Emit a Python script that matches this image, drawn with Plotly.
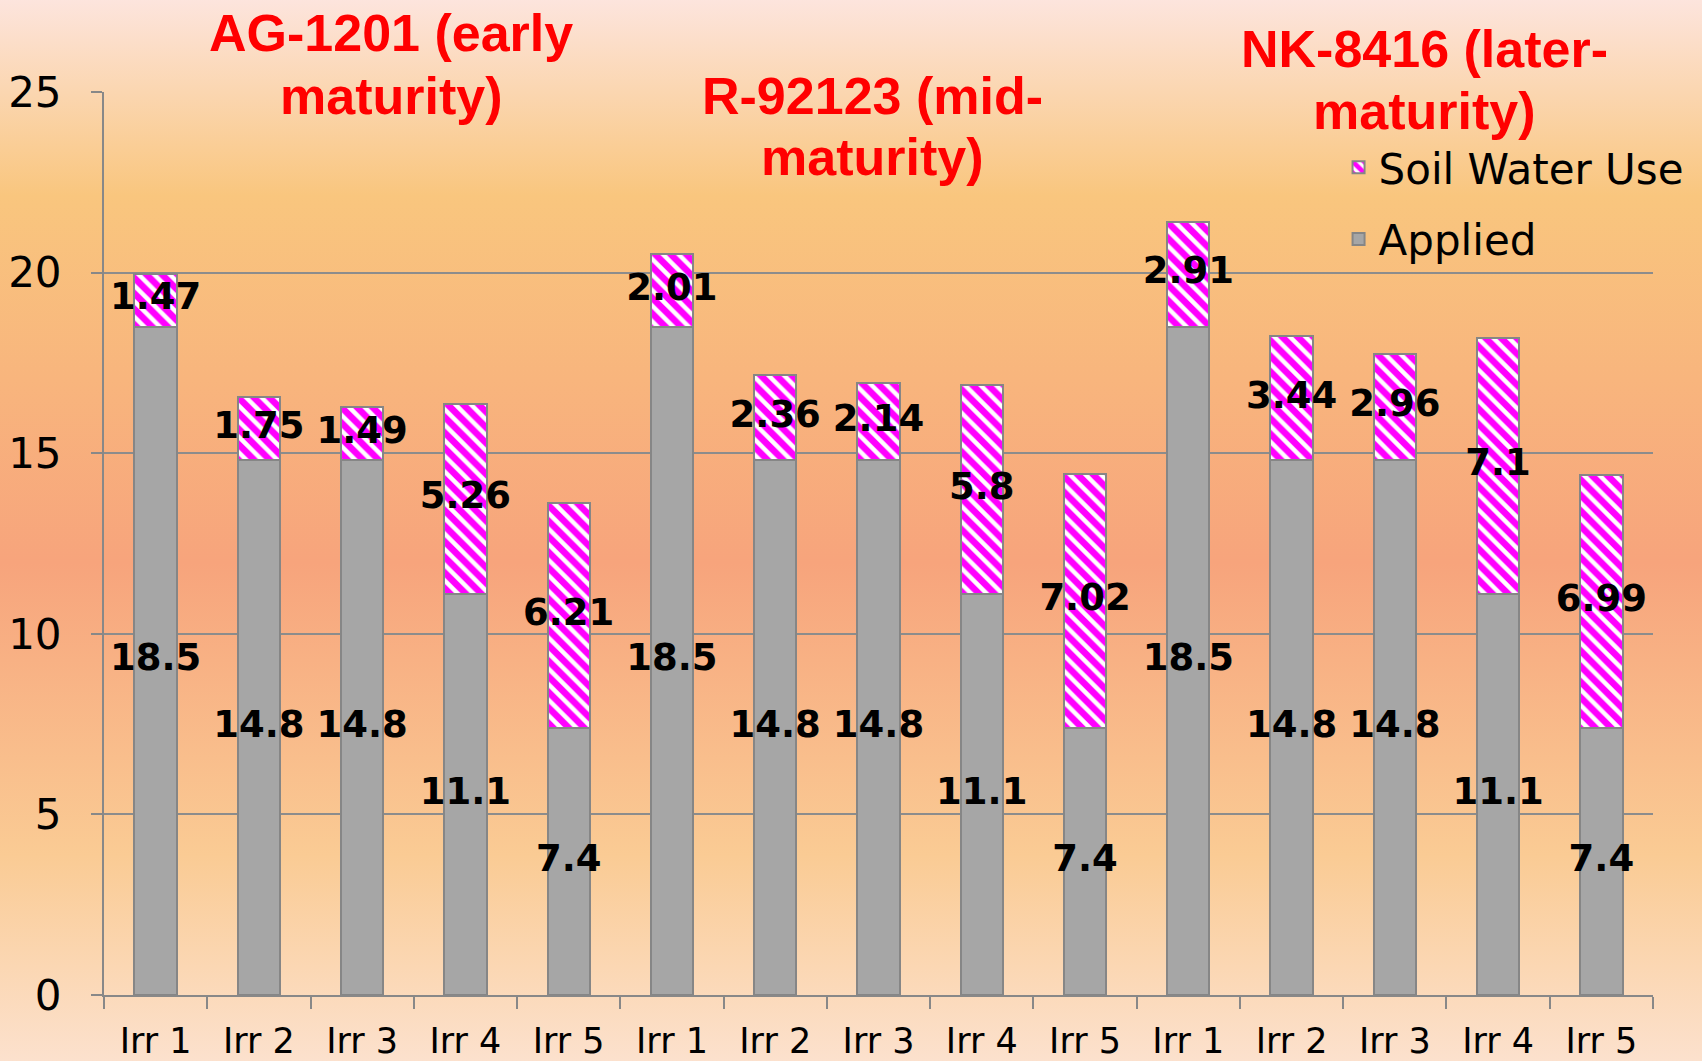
import base64
import plotly.graph_objects as go

# chart values
cats = ["AG Irr 1", "AG Irr 2", "AG Irr 3", "AG Irr 4", "AG Irr 5",
        "R Irr 1", "R Irr 2", "R Irr 3", "R Irr 4", "R Irr 5",
        "NK Irr 1", "NK Irr 2", "NK Irr 3", "NK Irr 4", "NK Irr 5"]
tick_labels = ["Irr 1", "Irr 2", "Irr 3", "Irr 4", "Irr 5"] * 3
applied = [18.5, 14.8, 14.8, 11.1, 7.4] * 3
soil_use = [1.47, 1.75, 1.49, 5.26, 6.21,
            2.01, 2.36, 2.14, 5.8, 7.02,
            2.91, 3.44, 2.96, 7.1, 6.99]
hybrid_lines = [("AG-1201 (early", "maturity)"),
                ("R-92123 (mid-", "maturity)"),
                ("NK-8416 (later-", "maturity)")]

W, H = 1702, 1061
L, R, T, B = 104, 49, 92, 66
pw, ph = W - L - R, H - T - B

# background gradient as an svg image
svg = ('<svg xmlns="http://www.w3.org/2000/svg" width="100" height="100" preserveAspectRatio="none">'
       '<defs><linearGradient id="g" x1="0" y1="0" x2="0" y2="1">'
       '<stop offset="0" stop-color="#FDE6E2"/>'
       '<stop offset="0.19" stop-color="#F9C67E"/>'
       '<stop offset="0.53" stop-color="#F7A47C"/>'
       '<stop offset="0.80" stop-color="#FACB94"/>'
       '<stop offset="1" stop-color="#FCE2D0"/>'
       '</linearGradient></defs><rect width="100" height="100" fill="url(#g)"/></svg>')
bg_src = "data:image/svg+xml;base64," + base64.b64encode(svg.encode()).decode()

fig = go.Figure()

fig.add_trace(go.Bar(
    x=cats, y=applied, name="Applied",
    marker=dict(color="#A6A6A6", line=dict(color="#868686", width=2)),
    legendgroup="a", legendrank=2, width=0.41,
))
fig.add_trace(go.Bar(
    x=cats, y=soil_use, name="Soil Water Use",
    marker=dict(color="white", line=dict(color="#868686", width=2),
                pattern=dict(shape="\\", fgcolor="#FF00FF", bgcolor="white",
                             fgopacity=1, size=11, solidity=0.6)),
    legendgroup="b", legendrank=1, width=0.41,
))

# data labels at the middle of each segment
lab_font = dict(family="DejaVu Sans", size=37, color="black", weight="bold")
fig.add_trace(go.Scatter(
    x=cats, y=[a / 2 for a in applied], mode="text",
    text=[f"{a:g}" for a in applied], textfont=lab_font,
    showlegend=False, hoverinfo="skip", cliponaxis=False,
))
fig.add_trace(go.Scatter(
    x=cats, y=[a + s / 2 for a, s in zip(applied, soil_use)], mode="text",
    text=[f"{s:g}" for s in soil_use], textfont=lab_font,
    showlegend=False, hoverinfo="skip", cliponaxis=False,
))

# group titles, one annotation per line (pixel centres from the reference)
title_px = [(391, 33, 96), (872, 96, 157), (1424, 49, 111)]
for (l1, l2), (cx, y1, y2) in zip(hybrid_lines, title_px):
    for txt, yy in ((l1, y1), (l2, y2)):
        fig.add_annotation(
            text=txt, xref="paper", yref="paper",
            x=(cx - L) / pw, y=(H - B - yy) / ph,
            xanchor="center", yanchor="middle", showarrow=False,
            font=dict(family="Liberation Sans", size=52, color="#FF0000", weight="bold"),
        )

fig.add_layout_image(
    source=bg_src, xref="paper", yref="paper",
    x=-(L + 10) / pw, y=1 + (T + 10) / ph, sizex=(W + 20) / pw, sizey=(H + 20) / ph,
    xanchor="left", yanchor="top", sizing="stretch", layer="below",
)

fig.update_layout(
    width=W, height=H, barmode="stack",
    margin=dict(l=L, r=R, t=T, b=B, autoexpand=False),
    paper_bgcolor="#FCE0CC", plot_bgcolor="rgba(0,0,0,0)",
    font=dict(family="DejaVu Sans", color="black"),
    legend=dict(x=0.797, y=0.954, xanchor="left", yanchor="top",
                traceorder="grouped", tracegroupgap=14,
                font=dict(family="DejaVu Sans", size=42),
                bgcolor="rgba(0,0,0,0)"),
)
fig.update_xaxes(
    type="category", tickmode="array", tickvals=cats, ticktext=tick_labels,
    range=[-0.5, len(cats) - 0.5],
    tickson="boundaries", ticks="outside", ticklen=12, tickcolor="#888888",
    tickwidth=2, showline=True, linecolor="#888888", linewidth=2,
    showgrid=False, tickfont=dict(size=35), ticklabelstandoff=14,
    automargin=False,
)
fig.update_yaxes(
    range=[0, 25], dtick=5, ticks="outside", ticklen=11, tickcolor="#888888",
    tickwidth=2, showline=True, linecolor="#888888", linewidth=2,
    gridcolor="#8C8C8C", gridwidth=2, zeroline=False,
    tickfont=dict(size=42), ticklabelstandoff=21, automargin=False,
)

fig.write_html("out.html", config={"displayModeBar": False},
               post_script="document.body.style.margin='0';")
